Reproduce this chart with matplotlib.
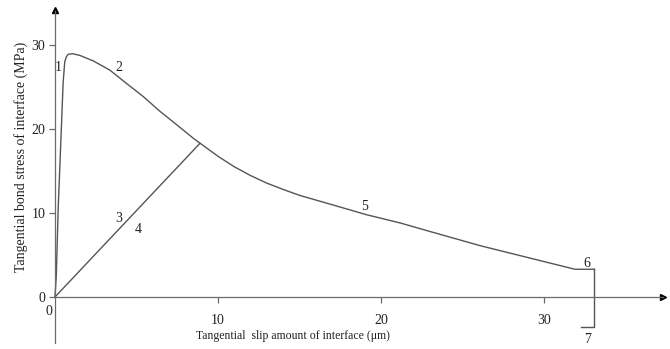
import matplotlib.pyplot as plt

plt.rcParams['font.family'] = ['Liberation Serif', 'DejaVu Serif']

# bond-slip curve (slip in um, stress in MPa)
slip = [0, 0.08, 0.2, 0.38, 0.5, 0.6, 0.7, 0.82, 1.1, 1.53, 2.35, 3.37, 4.4,
        5.42, 6.44, 7.47, 8.48, 8.9, 10.0, 11.0, 12.0, 13.0, 14.0, 15.0,
        17.06, 19.1, 21.2, 23.0, 26.1, 29.0, 31.9, 33.1]
stress = [0, 2.5, 10.7, 19.5, 25.5, 28.0, 28.6, 28.9, 28.95, 28.75, 28.1, 27.0,
          25.4, 23.85, 22.1, 20.5, 18.9, 18.3, 16.75, 15.5, 14.45, 13.55, 12.8,
          12.1, 10.95, 9.8, 8.8, 7.8, 6.1, 4.7, 3.3, 3.3]
# drop after the last point
drop_slip = [33.1, 33.1, 32.3]
drop_stress = [3.3, -3.6, -3.6]
# unloading / reloading line
load_slip = [0, 8.9]
load_stress = [0, 18.3]

ticks = [10, 20, 30]
seg_labels = ['1', '2', '3', '4', '5', '6', '7']
seg_x = [0.2, 3.9, 3.9, 5.1, 19.0, 32.6, 32.7]
seg_y = [27.3, 27.3, 9.4, 8.0, 10.75, 4.0, -5.1]

fig = plt.figure(figsize=(6.7, 3.49), dpi=100)
ax = fig.add_axes([0.0334, 0.0046, 0.9658, 0.987])
ax.set_xlim(-2, 37.7)
ax.set_ylim(-6, 35)

line_c = '#555555'
ax.plot(slip, stress, color=line_c, lw=1.0)
ax.plot(drop_slip, drop_stress, color=line_c, lw=1.0)
ax.plot(load_slip, load_stress, color=line_c, lw=1.0)

for lab, x, y in zip(seg_labels, seg_x, seg_y):
    ax.text(x, y, lab, fontsize=10, ha='center', va='center', color='#222222')

# axes through the origin with arrow heads
axis_c = '#6a6a6a'
for s in ['top', 'right']:
    ax.spines[s].set_visible(False)
ax.spines['left'].set_position(('data', 0))
ax.spines['bottom'].set_position(('data', 0))
ax.spines['left'].set_bounds(-5.5, 34)
ax.spines['bottom'].set_bounds(0, 37.3)
for s in ['left', 'bottom']:
    ax.spines[s].set_color(axis_c)
    ax.spines[s].set_linewidth(0.9)
ax.plot(37.3, 0, '>', color='black', ms=5, clip_on=False)
ax.plot(0, 34.2, '^', color='black', ms=5, clip_on=False)

ax.set_xticks(ticks)
ax.set_yticks([0] + ticks)
ax.tick_params(direction='out', length=4, width=0.9, color=axis_c,
               labelsize=10, labelcolor='#222222')
ax.tick_params(axis='x', pad=8)
ax.tick_params(axis='y', pad=3)
ax.text(-0.4, -0.9, '0', fontsize=10, ha='center', va='top', color='#222222')

ax.text(14.6, -4.6, 'Tangential  slip amount of interface (\u03bcm)', fontsize=8.5,
        ha='center', va='center', color='#222222')
ax.text(-2.1, 16.7, 'Tangential bond stress of interface (MPa)', fontsize=10,
        rotation=90, ha='center', va='center', color='#222222')

fig.savefig('out.png', dpi=100)
